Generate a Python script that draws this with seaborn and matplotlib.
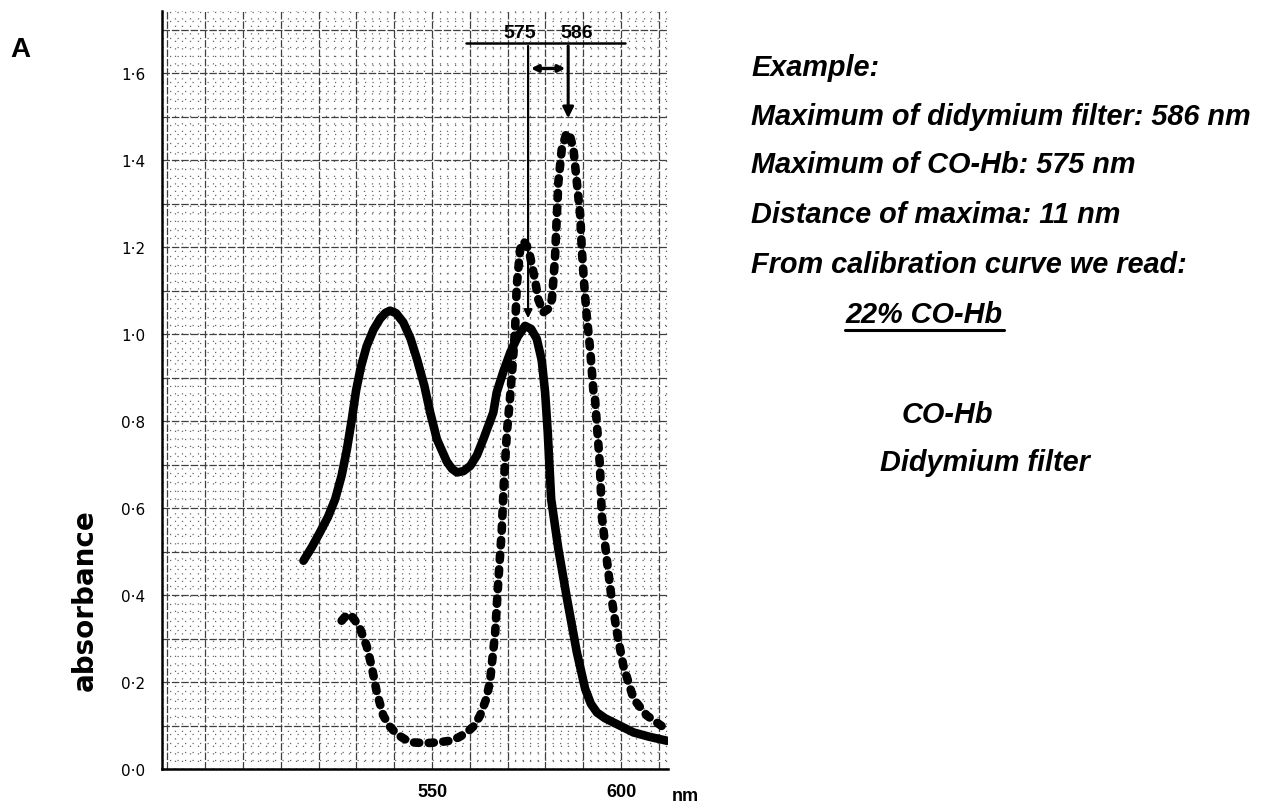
import numpy as np
import pandas as pd
import seaborn as sns
import matplotlib.pyplot as plt

# --- data ---
cohb_nm = [516.0, 518.2, 520.4, 522.5, 524.4, 526.1, 527.5, 528.8, 529.9, 531.2, 532.7, 534.5,
           536.3, 537.7, 538.9, 540.5, 542.4, 544.3, 546.0, 548.0, 549.5, 551.3, 553.9, 555.3,
           556.6, 558.3, 560.1, 561.9, 563.6, 566.2, 567.1, 568.9, 570.7, 572.7, 574.6, 576.2,
           577.7, 579.0, 579.9, 580.6, 581.5, 583.4, 585.7, 588.3, 590.5, 592.0, 593.6, 595.7,
           598.0, 603.3, 607.5, 612.1]
cohb_abs = [0.479, 0.510, 0.545, 0.580, 0.621, 0.675, 0.736, 0.805, 0.870, 0.925, 0.972, 1.010,
            1.036, 1.049, 1.054, 1.048, 1.027, 0.990, 0.943, 0.880, 0.820, 0.758, 0.707, 0.690,
            0.682, 0.685, 0.697, 0.722, 0.759, 0.820, 0.866, 0.915, 0.958, 0.995, 1.019, 1.012,
            0.989, 0.940, 0.866, 0.774, 0.621, 0.506, 0.391, 0.268, 0.184, 0.150, 0.130, 0.117,
            0.107, 0.084, 0.074, 0.065]

didym_nm = [526.1, 527.2, 528.3, 529.6, 531.0, 532.7, 534.0, 535.4, 537.1, 538.8, 540.7, 542.9,
            545.1, 547.3, 549.5, 552.2, 554.8, 557.1, 559.2, 561.2, 562.7, 564.2, 565.3, 566.7,
            567.5, 568.4, 569.0, 569.8, 570.6, 571.4, 572.0, 572.4, 573.3, 574.2, 575.1, 575.9,
            577.2, 578.1, 579.4, 580.7, 581.7, 582.5, 583.0, 583.4, 584.3, 585.6, 586.6, 587.4,
            588.3, 589.2, 589.6, 590.2, 590.9, 591.8, 592.7, 593.1, 594.4, 594.9, 596.2, 597.5,
            598.9, 600.6, 603.3, 606.8, 611.2]
didym_abs = [0.341, 0.352, 0.356, 0.342, 0.322, 0.283, 0.237, 0.176, 0.123, 0.098, 0.080, 0.068,
             0.061, 0.060, 0.060, 0.062, 0.065, 0.073, 0.084, 0.100, 0.123, 0.158, 0.199, 0.314,
             0.429, 0.544, 0.659, 0.774, 0.851, 0.940, 1.019, 1.111, 1.195, 1.214, 1.202, 1.180,
             1.126, 1.080, 1.050, 1.058, 1.080, 1.172, 1.272, 1.349, 1.425, 1.464, 1.452, 1.425,
             1.349, 1.272, 1.195, 1.119, 1.042, 0.966, 0.866, 0.851, 0.697, 0.582, 0.483, 0.391,
             0.314, 0.237, 0.161, 0.123, 0.096]

ytick_labels = ["0·0", "0·2", "0·4", "0·6", "0·8", "1·0", "1·2", "1·4", "1·6"]
xtick_vals = [550, 600]
xtick_labels = ["550", "600"]

peak_cohb = 575.4
peak_didym = 586.0

notes = ["Example:",
         "Maximum of didymium filter: 586 nm",
         "Maximum of CO-Hb: 575 nm",
         "Distance of maxima: 11 nm",
         "From calibration curve we read:"]

cohb_df = pd.DataFrame({"nm": cohb_nm, "absorbance": cohb_abs})
didym_df = pd.DataFrame({"nm": didym_nm, "absorbance": didym_abs})

sns.set_style("white")
plt.rcParams['font.family'] = ['DejaVu Sans']
plt.rcParams['text.color'] = 'black'
plt.rcParams['xtick.color'] = 'black'
plt.rcParams['ytick.color'] = 'black'

fig = plt.figure(figsize=(12.69, 8.03), dpi=100)
ax = fig.add_axes([0.1277, 0.0411, 0.3987, 0.9439])

# graph paper
ax.set_xlim(478.6, 612.4)
ax.set_ylim(0, 1.743)
ax.grid(which="major", color="0.25", lw=0.9, ls=(0, (6, 1.5)))
ax.grid(which="minor", color="0.4", lw=0.9, ls=(0, (1, 5)))
ax.set_axisbelow(True)

sns.lineplot(data=cohb_df, x="nm", y="absorbance", ax=ax, color="black", lw=6.2,
             sort=False, estimator=None, solid_capstyle="round", solid_joinstyle="round")
sns.lineplot(data=didym_df, x="nm", y="absorbance", ax=ax, color="black", lw=6.2,
             sort=False, estimator=None, dashes=False)
ax.lines[-1].set_linestyle((0, (0.6, 1.1)))
ax.lines[-1].set_dash_capstyle("round")

# maxima annotations
ax.plot([559.0, 601.1], [1.669, 1.669], color="black", lw=1.8, clip_on=False)
ax.annotate("", xy=(peak_cohb, 1.03), xytext=(peak_cohb, 1.669),
            arrowprops=dict(arrowstyle="-|>", color="black", lw=1.6, mutation_scale=12))
ax.annotate("", xy=(peak_didym, 1.49), xytext=(peak_didym, 1.669),
            arrowprops=dict(arrowstyle="-|>", color="black", lw=2.2, mutation_scale=16))
ax.annotate("", xy=(peak_cohb, 1.611), xytext=(peak_didym, 1.611),
            arrowprops=dict(arrowstyle="<|-|>", color="black", lw=2.4, mutation_scale=10))
ax.text(573.3, 1.694, "575", ha="center", va="center", fontsize=14, fontweight="bold",
        family="Liberation Sans", clip_on=False)
ax.text(588.3, 1.694, "586", ha="center", va="center", fontsize=14, fontweight="bold",
        family="Liberation Sans", clip_on=False)

# axes styling
major_y = np.arange(0, 1.743, 0.1)
ax.set_xticks(np.arange(480, 613, 10))
ax.set_xticks(np.arange(480, 613, 2), minor=True)
ax.set_xticklabels([xtick_labels[xtick_vals.index(v)] if v in xtick_vals else ""
                    for v in np.arange(480, 613, 10)],
                   fontsize=13, fontweight="bold", family="Liberation Sans")
ax.set_yticks(major_y)
ax.set_yticks(np.arange(0, 1.743, 0.02), minor=True)
ax.set_yticklabels([ytick_labels[int(round(v * 5))] if round(v * 10) % 2 == 0 else ""
                    for v in major_y], fontsize=11)
ax.tick_params(which="both", length=0)
ax.tick_params(axis="y", pad=12)
ax.tick_params(axis="x", pad=10)
ax.set_xlabel("")
ax.set_ylabel("")
for side in ["top", "right"]:
    ax.spines[side].set_visible(False)
for side in ["left", "bottom"]:
    ax.spines[side].set_color("black")
    ax.spines[side].set_linewidth(1.8)

ax.text(616.9, -0.06, "nm", ha="center", va="center", fontsize=13, fontweight="bold",
        family="Liberation Sans", clip_on=False)

fig.text(85 / 1269, 1 - 600 / 803, "absorbance", rotation=90, ha="center", va="center",
         fontsize=20, fontweight="bold")
fig.text(20 / 1269, 1 - 50 / 803, "A", ha="center", va="center", fontsize=20,
         fontweight="bold", family="Liberation Sans")

# explanation on the right
note_y = [68, 117, 165, 215, 265]
for txt, y in zip(notes, note_y):
    fig.text(751 / 1269, 1 - y / 803, txt, ha="left", va="center", fontsize=20.8,
             fontweight="bold", fontstyle="italic", family="Liberation Sans")
fig.text(845 / 1269, 1 - 315 / 803, "22% CO-Hb", ha="left", va="center", fontsize=20.8,
         fontweight="bold", fontstyle="italic", family="Liberation Sans")
fig.add_artist(plt.Line2D([845 / 1269, 1004 / 1269], [1 - 331 / 803, 1 - 331 / 803],
                          color="black", lw=2.2))
fig.text(947 / 1269, 1 - 415 / 803, "CO-Hb", ha="center", va="center", fontsize=20.8,
         fontweight="bold", fontstyle="italic", family="Liberation Sans")
fig.text(985 / 1269, 1 - 463 / 803, "Didymium filter", ha="center", va="center", fontsize=20.8,
         fontweight="bold", fontstyle="italic", family="Liberation Sans")

fig.savefig("out.png", dpi=100)
